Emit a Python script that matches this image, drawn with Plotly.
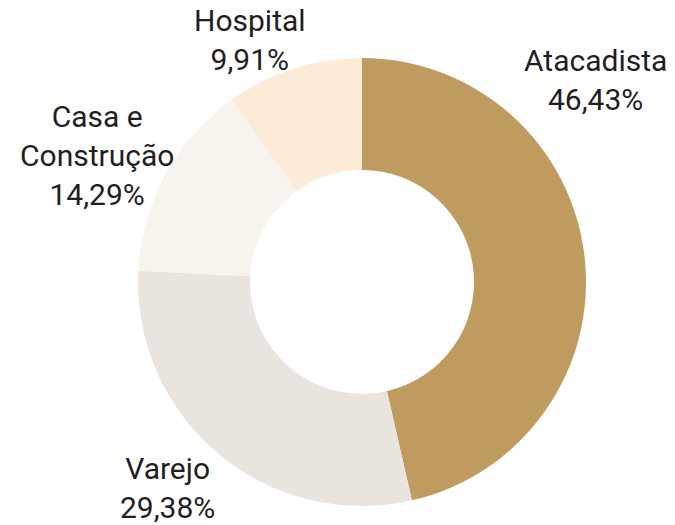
import plotly.graph_objects as go

labels = ["Atacadista", "Varejo", "Casa e<br>Construção", "Hospital"]
values = [46.43, 29.38, 14.29, 9.91]
colors = ["#C09B60", "#E9E4DE", "#F7F4EE", "#FBEBD7"]

# label anchor positions (pixels in the 675x525 canvas)
label_pos_px = [(595, 80), (167, 488), (97, 155), (250, 40)]

W, H = 675, 525
cx, cy, r = 362, 282, 224

fig = go.Figure(go.Pie(
    labels=labels,
    values=values,
    hole=0.5,
    sort=False,
    direction="clockwise",
    rotation=0,
    marker=dict(colors=colors, line=dict(width=0)),
    textinfo="none",
    showlegend=False,
    hoverinfo="skip",
    domain=dict(x=[(cx - r) / W, (cx + r) / W],
                y=[(H - cy - r) / H, (H - cy + r) / H]),
))

total = sum(values)
annotations = []
for lab, v, (px, py) in zip(labels, values, label_pos_px):
    pct = f"{v / total * 100:.2f}".replace(".", ",") + "%"
    annotations.append(dict(
        x=px / W, y=1 - py / H, xref="paper", yref="paper",
        xanchor="center", yanchor="middle", showarrow=False,
        text=f"{lab}<br>{pct}",
        font=dict(family="Roboto", size=30, color="#1f1f1f"),
    ))

fig.update_layout(
    width=W, height=H,
    margin=dict(l=0, r=0, t=0, b=0),
    paper_bgcolor="white",
    plot_bgcolor="white",
    separators=",.",
    annotations=annotations,
)
fig.write_html("out.html", config={"displayModeBar": False},
               post_script="document.body.style.margin='0';")
